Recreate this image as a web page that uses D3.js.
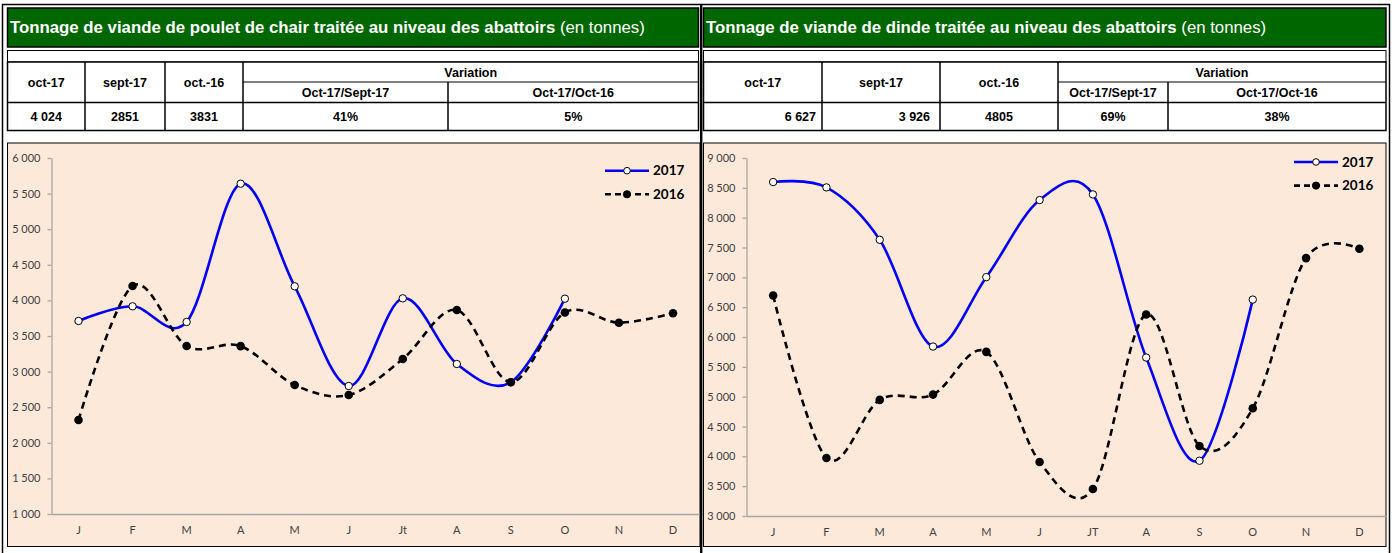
<!DOCTYPE html>
<html>
<head>
<meta charset="utf-8">
<script src="https://cdn.jsdelivr.net/npm/d3@7"></script>
<style>
  body { margin: 0; background: #fff; }
  svg { display: block; }
</style>
</head>
<body>
<div id="container"></div>
<script>
// month labels (the two charts spell July differently)
const monthsPoulet = ["J", "F", "M", "A", "M", "J", "Jt", "A", "S", "O", "N", "D"];
const monthsDinde = ["J", "F", "M", "A", "M", "J", "JT", "A", "S", "O", "N", "D"];

// tonnage values (null = not yet available)
const poulet2017 = [3711, 3917, 3697, 5639, 4198, 2798, 4029, 3107, 2851, 4024, null, null];
const poulet2016 = [2320, 4202, 3360, 3358, 2812, 2671, 3177, 3865, 2850, 3831, 3687, 3819];
const dinde2017 = [8597, 8507, 7629, 5840, 7003, 8295, 8390, 5656, 3926, 6627, null, null];
const dinde2016 = [6696, 3973, 4946, 5035, 5751, 3906, 3453, 6377, 4174, 4805, 7322, 7478];

const pouletTicks = [1000, 1500, 2000, 2500, 3000, 3500, 4000, 4500, 5000, 5500, 6000];
const dindeTicks = [3000, 3500, 4000, 4500, 5000, 5500, 6000, 6500, 7000, 7500, 8000, 8500, 9000];

// summary tables
const tableHeads = ["oct-17", "sept-17", "oct.-16"];
const variationLabel = "Variation";
const variationHeads = ["Oct-17/Sept-17", "Oct-17/Oct-16"];
const pouletRow = ["4 024", "2851", "3831", "41%", "5%"];
const dindeRow = ["6 627", "3 926", "4805", "69%", "38%"];

const titlePoulet = "Tonnage de viande de poulet de chair traitée au niveau des abattoirs";
const titleDinde = "Tonnage de viande de dinde traitée au niveau des abattoirs";
const titleUnit = " (en tonnes)";

const w = 1392;
const h = 553;
const green = "#006600";
const peach = "#fde9d9";
const fmt = d3.formatLocale({ decimal: ",", thousands: " ", grouping: [3], currency: ["", ""] }).format(",");

const svg = d3.select("#container")
  .append("svg")
  .attr("width", w)
  .attr("height", h);

// outer frame
svg.append("rect")
  .attr("x", 2.5).attr("y", 4.5)
  .attr("width", 1387).attr("height", 560)
  .attr("fill", "none").attr("stroke", "#000").attr("stroke-width", 1.5);

function drawPanel(p) {
  const g = svg.append("g");

  // green title bar
  g.append("rect")
    .attr("x", p.x0).attr("y", 8)
    .attr("width", p.x1 - p.x0).attr("height", 39)
    .attr("fill", green).attr("stroke", "#000").attr("stroke-width", 1.5);
  const t = g.append("text")
    .attr("x", p.x0 + 2.5).attr("y", 33)
    .attr("fill", "#fff")
    .style("font-family", "'Liberation Sans', Arial, sans-serif")
    .style("font-size", "16.8px");
  t.append("tspan").style("font-weight", "bold").text(p.title);
  t.append("tspan").text(titleUnit);

  // blank strip under title
  g.append("rect")
    .attr("x", p.x0).attr("y", 50.5)
    .attr("width", p.x1 - p.x0).attr("height", 11.5)
    .attr("fill", "#fff").attr("stroke", "#000").attr("stroke-width", 1);

  // table
  const c = p.cols;
  const tx = g.append("g")
    .style("font-family", "'Liberation Sans', Arial, sans-serif")
    .style("font-size", "12.5px")
    .style("font-weight", "bold");
  const line = (x1, y1, x2, y2, sw) => tx.append("line")
    .attr("x1", x1).attr("y1", y1).attr("x2", x2).attr("y2", y2)
    .attr("stroke", "#000").attr("stroke-width", sw || 1.5);
  tx.append("rect")
    .attr("x", c[0]).attr("y", 62)
    .attr("width", c[5] - c[0]).attr("height", 68.5)
    .attr("fill", "#fff").attr("stroke", "#000").attr("stroke-width", 1.5);
  line(c[0], 102.5, c[5], 102.5);
  line(c[3], 82, c[5], 82, 1);
  for (let i = 1; i < 5; i++) {
    line(c[i], i === 4 ? 82 : 62, c[i], 130.5);
  }
  tableHeads.forEach((d, i) => {
    tx.append("text").attr("x", (c[i] + c[i + 1]) / 2).attr("y", 86.5)
      .attr("text-anchor", "middle").text(d);
  });
  tx.append("text").attr("x", (c[3] + c[5]) / 2).attr("y", 76.5)
    .attr("text-anchor", "middle").text(variationLabel);
  variationHeads.forEach((d, i) => {
    tx.append("text").attr("x", (c[i + 3] + c[i + 4]) / 2).attr("y", 97)
      .attr("text-anchor", "middle").text(d);
  });
  p.row.forEach((d, i) => {
    const right = p.rightAlign && i < 2;
    tx.append("text")
      .attr("x", right ? c[i + 1] - p.rightPad[i] : (c[i] + c[i + 1]) / 2)
      .attr("y", 121)
      .attr("text-anchor", right ? "end" : "middle")
      .text(d);
  });

  // chart area
  g.append("rect")
    .attr("x", p.x0).attr("y", 143)
    .attr("width", p.chartRight - p.x0).attr("height", 403.5)
    .attr("fill", peach).attr("stroke", "#000").attr("stroke-width", 1);

  const x = d3.scaleBand()
    .domain(d3.range(12))
    .range([p.plotLeft, p.plotRight])
    .paddingInner(0).paddingOuter(0);
  const y = d3.scaleLinear()
    .domain(d3.extent(p.ticks))
    .range([p.plotBottom, 158]);

  const yAxis = d3.axisLeft(y)
    .tickValues(p.ticks)
    .tickSize(4).tickSizeOuter(0)
    .tickPadding(7)
    .tickFormat(fmt);
  const ya = g.append("g")
    .attr("transform", "translate(" + p.plotLeft + ",0)")
    .call(yAxis);

  const xAxis = d3.axisBottom(x)
    .tickSize(0).tickSizeOuter(0)
    .tickPadding(12)
    .tickFormat((d) => p.months[d]);
  const xa = g.append("g")
    .attr("transform", "translate(0," + p.plotBottom + ")")
    .call(xAxis);

  [ya, xa].forEach((a) => {
    a.select(".domain").attr("stroke", "#a6a6a6").attr("stroke-width", 1.3);
    a.selectAll(".tick line").attr("stroke", "#a6a6a6").attr("stroke-width", 1.3);
    a.selectAll("text")
      .attr("fill", "#404040")
      .style("font-family", "Lato, sans-serif")
      .style("font-size", "11px");
  });

  const cx = (i) => x(i) + x.bandwidth() / 2;
  const lineGen = d3.line()
    .defined((d) => d !== null)
    .x((d, i) => cx(i))
    .y((d) => y(d))
    .curve(d3.curveCardinal.tension(0));

  // 2017
  g.append("path")
    .attr("d", lineGen(p.s2017))
    .attr("fill", "none")
    .attr("stroke", "#0000ff")
    .attr("stroke-width", 2.6);
  // 2016
  g.append("path")
    .attr("d", lineGen(p.s2016))
    .attr("fill", "none")
    .attr("stroke", "#000")
    .attr("stroke-width", 2.6)
    .attr("stroke-dasharray", "7,5");

  g.selectAll(".m17")
    .data(p.s2017.map((v, i) => ({ v, i })).filter((d) => d.v !== null))
    .enter()
    .append("circle")
    .attr("cx", (d) => cx(d.i))
    .attr("cy", (d) => y(d.v))
    .attr("r", 3.7)
    .attr("fill", "#fff")
    .attr("stroke", "#000")
    .attr("stroke-width", 1);
  g.selectAll(".m16")
    .data(p.s2016.map((v, i) => ({ v, i })))
    .enter()
    .append("circle")
    .attr("cx", (d) => cx(d.i))
    .attr("cy", (d) => y(d.v))
    .attr("r", 4.3)
    .attr("fill", "#000");

  // legend
  const lg = g.append("g");
  const items = [
    { name: "2017", color: "#0000ff", dash: null, fill: "#fff", r: 3.3 },
    { name: "2016", color: "#000", dash: "6,4", fill: "#000", r: 3.6 }
  ];
  items.forEach((d, i) => {
    const ly = p.legendY + i * 23.6;
    lg.append("line")
      .attr("x1", p.legendX).attr("x2", p.legendX + 44)
      .attr("y1", ly).attr("y2", ly)
      .attr("stroke", d.color).attr("stroke-width", 2.6)
      .attr("stroke-dasharray", d.dash);
    lg.append("circle")
      .attr("cx", p.legendX + 22).attr("cy", ly).attr("r", d.r)
      .attr("fill", d.fill).attr("stroke", "#000").attr("stroke-width", 1);
    lg.append("text")
      .attr("x", p.legendX + 48).attr("y", ly + 4.5)
      .style("font-family", "Lato, sans-serif")
      .style("font-size", "13.5px")
      .style("font-weight", "bold")
      .attr("fill", "#000")
      .text(d.name);
  });
}

drawPanel({
  x0: 7.5, x1: 698.5,
  title: titlePoulet,
  cols: [7.5, 85, 165, 243, 448, 698.5],
  row: pouletRow, rightAlign: false,
  chartRight: 700,
  plotLeft: 51.5, plotRight: 700, plotBottom: 514,
  ticks: pouletTicks, months: monthsPoulet,
  s2017: poulet2017, s2016: poulet2016,
  legendX: 605, legendY: 170.7
});

drawPanel({
  x0: 703.5, x1: 1386,
  title: titleDinde,
  cols: [703.5, 822, 940, 1058, 1168, 1386],
  row: dindeRow, rightAlign: true, rightPad: [6, 10],
  chartRight: 1386,
  plotLeft: 746.5, plotRight: 1386, plotBottom: 516,
  ticks: dindeTicks, months: monthsDinde,
  s2017: dinde2017, s2016: dinde2016,
  legendX: 1294, legendY: 162
});

// divider between the two panels
svg.append("line")
  .attr("x1", 701.2).attr("x2", 701.2)
  .attr("y1", 4).attr("y2", h)
  .attr("stroke", "#000").attr("stroke-width", 2.4);
</script>
</body>
</html>
